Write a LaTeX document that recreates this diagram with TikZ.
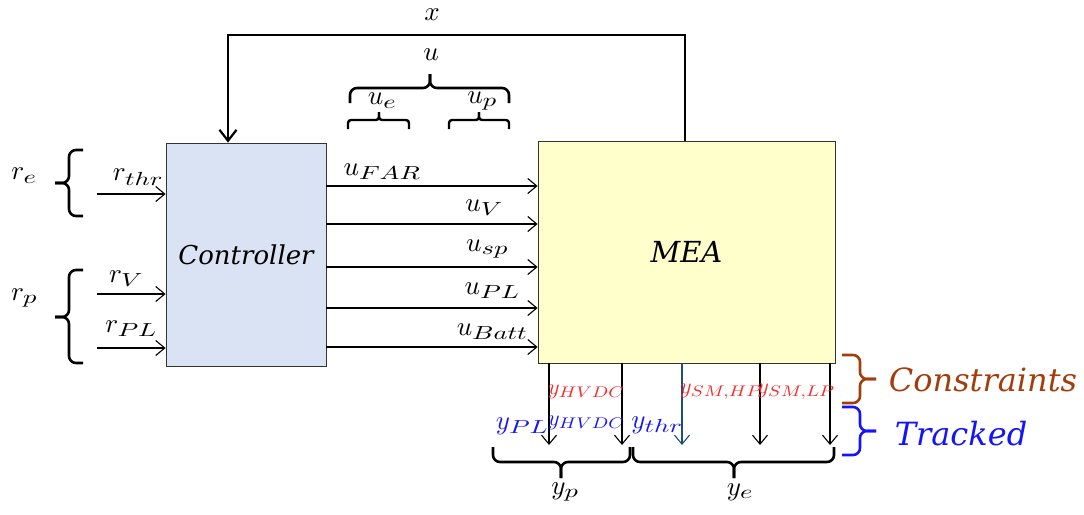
\documentclass[tikz,border=0pt]{standalone}
\usepackage{fontspec}
\usepackage{graphicx}
\newfontfamily\blockfont{DejaVu Serif}
\usetikzlibrary{arrows.meta}

% scalable math italic at any size
\DeclareFontFamily{OML}{cmm}{\skewchar\font'177}
\DeclareFontShape{OML}{cmm}{m}{it}{<->cmmi10}{}

\definecolor{ctrlfill}{RGB}{218,227,243}
\definecolor{meafill}{RGB}{255,255,204}
\definecolor{conbrown}{RGB}{163,62,12}
\definecolor{trkblue}{RGB}{20,20,250}
\definecolor{conred}{RGB}{250,40,40}
\definecolor{thrblue}{RGB}{31,78,121}

% wide subscripts
\newcommand\subs[1]{_{\scalebox{1.4}[1]{$\scriptstyle #1$}}}
\newcommand\ssubs[1]{_{\scalebox{1.25}[1]{$\scriptstyle #1$}}}
\newcommand\mainsz{\fontsize{27}{31}\selectfont}
\newcommand\smallsz{\fontsize{22}{26}\selectfont}

\tikzset{
  block/.style={draw=black!80, line width=0.8pt, inner sep=0pt},
  sig/.style={line width=1.1pt, -{Straight Barb[length=9pt,width=15pt,line width=1.1pt]}},
  fback/.style={line width=2.2pt, -{Straight Barb[length=11pt,width=17pt,line width=2.2pt]}},
  brk/.style={line width=2.6pt, rounded corners=#1},
  brk/.default=7pt,
  lbl/.style={inner sep=0pt, font=\mainsz},
  slbl/.style={inner sep=0pt, font=\smallsz},
  word/.style={inner sep=0pt, font=\blockfont\itshape\fontsize{26}{30}\selectfont},
  bigword/.style={inner sep=0pt, font=\blockfont\itshape\fontsize{32}{36}\selectfont}
}

\begin{document}
\begin{tikzpicture}[x=1pt,y=1pt]
\useasboundingbox (0,0) rectangle (1084,-514);

% blocks
\node[block, fill=ctrlfill, minimum width=160pt, minimum height=223pt] (ctrl) at (246,-254.5) {};
\node[block, fill=meafill, minimum width=297pt, minimum height=222pt] (mea) at (686.5,-252) {};
\node[word] (ctrltxt) at (ctrl.center) {Controller};
\node[word, font=\blockfont\itshape\fontsize{29}{33}\selectfont] (meatxt) at (mea.center) {MEA};

% feedback of the state x
\coordinate (fbR) at (685,-35);
\coordinate (fbL) at (228,-35);
\draw[fback] (mea.north -| fbR) -- (fbR) -- (fbL) -- (ctrl.north -| fbL);
\node[lbl] (xl) at (432,-15) {$x$};

% references into the controller
\coordinate (rthr) at (97,-194);
\coordinate (rv) at (97,-294);
\coordinate (rpl) at (97,-348);
\draw[sig] (rthr) -- (rthr -| ctrl.west);
\draw[sig] (rv) -- (rv -| ctrl.west);
\draw[sig] (rpl) -- (rpl -| ctrl.west);
\node[lbl] (rthrl) at (138,-177) {$r\subs{thr}$};
\node[lbl] (rvl) at (126,-279) {$r\subs{V}$};
\node[lbl] (rpll) at (131,-329) {$r\subs{PL}$};
\node[lbl] (rel) at (24,-176) {$r\subs{e}$};
\node[lbl] (rpgl) at (24,-298) {$r\subs{p}$};
% braces grouping the references
\draw[brk] (83,-150) -- (69,-150) -- (69,-183) -- (55,-183);
\draw[brk] (83,-216) -- (69,-216) -- (69,-183) -- (55,-183);
\draw[brk] (83,-270) -- (69,-270) -- (69,-317) -- (55,-317);
\draw[brk] (83,-363) -- (69,-363) -- (69,-317) -- (55,-317);

% control inputs
\foreach \yy/\nm in {186/ufar,224/uv,267/usp,308/upl,347/ubatt}{
  \coordinate (\nm) at (400,-\yy);
  \draw[sig] (ctrl.east |- \nm) -- (mea.west |- \nm);
}
\node[lbl] (ufarl) at (382,-172) {$u\subs{FAR}$};
\node[lbl] (uvl) at (484,-208) {$u\subs{V}$};
\node[lbl] (uspl) at (487,-249) {$u\subs{sp}$};
\node[lbl] (upll) at (492,-291) {$u\subs{PL}$};
\node[lbl] (ubattl) at (492,-332) {$u\subs{Batt}$};

% braces grouping the inputs
\draw[brk] (350,-103) -- (350,-88) -- (430,-88) -- (430,-74);
\draw[brk] (509,-103) -- (509,-88) -- (430,-88) -- (430,-74);
\draw[brk=3pt, line width=2.4pt] (348,-129) -- (348,-120) -- (379,-120) -- (379,-112);
\draw[brk=3pt, line width=2.4pt] (409,-129) -- (409,-120) -- (379,-120) -- (379,-112);
\draw[brk=3pt, line width=2.4pt] (449,-129) -- (449,-120) -- (479,-120) -- (479,-112);
\draw[brk=3pt, line width=2.4pt] (509,-129) -- (509,-120) -- (479,-120) -- (479,-112);
\node[lbl] (ul) at (431,-55) {$u$};
\node[lbl] (uel) at (382,-101) {$u\subs{e}$};
\node[lbl] (upl) at (482,-101) {$u\subs{p}$};

% outputs
\foreach \xx/\nm/\cl in {549/o1/black,622/o2/black,682/o3/thrblue,760/o4/black,830/o5/black}{
  \coordinate (\nm) at (\xx,-445);
  \draw[sig, draw=\cl] (mea.south -| \nm) -- (\nm);
}
\node[slbl, text=conred] (yhvdcr) at (586,-392) {$y\ssubs{HVDC}$};
\node[slbl, text=conred] (ysmhp) at (721,-392) {$y\ssubs{SM,HP}$};
\node[slbl, text=conred] (ysmlp) at (796,-392) {$y\ssubs{SM,LP}$};
\node[lbl, text=trkblue] (ypll) at (522,-426) {$y\subs{PL}$};
\node[slbl, text=trkblue] (yhvdcb) at (586,-423) {$y\ssubs{HVDC}$};
\node[lbl, text=trkblue] (ythrl) at (657,-425) {$y\subs{thr}$};

% braces grouping the outputs
\draw[brk] (493,-447) -- (493,-462) -- (561,-462) -- (561,-478);
\draw[brk] (630,-447) -- (630,-462) -- (561,-462) -- (561,-478);
\draw[brk] (633,-447) -- (633,-462) -- (734,-462) -- (734,-478);
\draw[brk] (834,-447) -- (834,-462) -- (734,-462) -- (734,-478);
\node[lbl] (ypg) at (565,-492) {$y\subs{p}$};
\node[lbl] (yeg) at (740,-492) {$y\subs{e}$};
\draw[brk, draw=conbrown] (842,-355) -- (860,-355) -- (860,-379) -- (876,-379);
\draw[brk, draw=conbrown] (842,-403) -- (860,-403) -- (860,-379) -- (876,-379);
\draw[brk, draw=trkblue] (842,-407) -- (860,-407) -- (860,-431) -- (876,-431);
\draw[brk, draw=trkblue] (842,-455) -- (860,-455) -- (860,-431) -- (876,-431);
\node[bigword, text=conbrown] (conl) at (983,-380) {Constraints};
\node[bigword, text=trkblue] (trkl) at (961,-434) {Tracked};
\end{tikzpicture}
\end{document}
